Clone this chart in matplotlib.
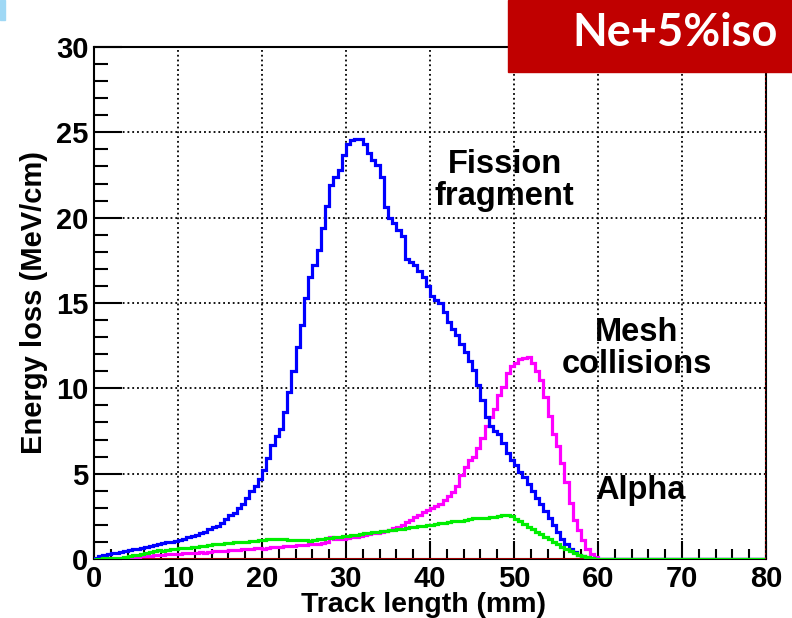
import numpy as np
import matplotlib
matplotlib.use('Agg')
import matplotlib.pyplot as plt
from matplotlib.patches import Rectangle

# 0.5 mm bins from 0 to 80 mm
edges = np.linspace(0, 80, 161)

# Energy loss per bin (MeV/cm), bins 0-60 mm
fission = [0.08, 0.15, 0.22, 0.28, 0.33, 0.38, 0.43, 0.48, 0.52, 0.56,
           0.6, 0.66, 0.72, 0.76, 0.8, 0.88, 0.93, 0.97, 1.0, 1.05,
           1.1, 1.18, 1.3, 1.36, 1.42, 1.5, 1.6, 1.75, 1.85, 1.95,
           2.1, 2.35, 2.55, 2.7, 3.0, 3.2, 3.6, 4.0, 4.3, 4.7,
           5.2, 5.9, 6.7, 7.2, 7.6, 8.6, 9.8, 11.0, 12.4, 13.7,
           15.3, 16.5, 17.2, 18.1, 19.4, 20.7, 21.9, 22.4, 22.8, 23.7,
           24.3, 24.55, 24.6, 24.6, 24.3, 23.8, 23.4, 23.1, 22.4, 20.6,
           20.0, 19.7, 19.3, 18.9, 17.6, 17.4, 17.2, 16.9, 16.5, 16.0,
           15.4, 15.2, 15.0, 14.5, 13.9, 13.5, 13.1, 12.6, 12.1, 11.6,
           11.1, 10.2, 9.3, 8.3, 7.8, 7.5, 7.3, 6.8, 6.2, 5.8,
           5.5, 5.1, 4.8, 4.4, 4.0, 3.6, 3.2, 2.8, 2.4, 2.0,
           1.6, 1.2, 0.9, 0.6, 0.4, 0.25, 0.15, 0.08, 0.04, 0.02]
mesh = [0.0, 0.01, 0.02, 0.03, 0.04, 0.05, 0.06, 0.08, 0.1, 0.12,
        0.14, 0.16, 0.18, 0.2, 0.22, 0.24, 0.26, 0.28, 0.3, 0.3,
        0.32, 0.33, 0.35, 0.36, 0.38, 0.4, 0.36, 0.42, 0.44, 0.46,
        0.47, 0.48, 0.5, 0.52, 0.54, 0.56, 0.58, 0.6, 0.62, 0.64,
        0.6, 0.66, 0.68, 0.7, 0.72, 0.74, 0.76, 0.78, 0.8, 0.82,
        0.84, 0.86, 0.88, 0.9, 0.92, 1.0, 1.3, 1.2, 1.15, 1.2,
        1.22, 1.26, 1.3, 1.35, 1.4, 1.45, 1.5, 1.55, 1.6, 1.65,
        1.7, 1.8, 1.9, 2.0, 2.15, 2.3, 2.45, 2.6, 2.75, 2.9,
        3.0, 3.1, 3.25, 3.45, 3.7, 3.9, 4.3, 4.9, 5.4, 5.8,
        6.0, 6.5, 7.1, 7.8, 8.3, 8.8, 9.6, 10.1, 10.9, 11.3,
        11.5, 11.7, 11.8, 11.85, 11.5, 11.0, 10.5, 9.5, 8.4, 7.3,
        6.6, 5.6, 4.5, 3.3, 2.3, 1.7, 1.1, 0.6, 0.3, 0.1]
alpha = [0.02, 0.02, 0.03, 0.03, 0.04, 0.05, 0.08, 0.12, 0.18, 0.22,
         0.26, 0.3, 0.34, 0.4, 0.45, 0.5, 0.48, 0.55, 0.58, 0.6,
         0.62, 0.64, 0.66, 0.68, 0.72, 0.75, 0.78, 0.82, 0.86, 0.9,
         0.9, 0.92, 0.95, 0.97, 1.0, 1.0, 1.02, 1.05, 1.08, 1.1,
         1.12, 1.15, 1.16, 1.18, 1.18, 1.16, 1.14, 1.12, 1.1, 1.1,
         1.1, 1.08, 1.1, 1.15, 1.2, 1.22, 1.25, 1.28, 1.3, 1.32,
         1.35, 1.38, 1.42, 1.46, 1.5, 1.53, 1.56, 1.6, 1.63, 1.66,
         1.7, 1.72, 1.75, 1.78, 1.82, 1.85, 1.88, 1.92, 1.96, 2.0,
         2.02, 2.05, 2.1, 2.12, 2.15, 2.2, 2.22, 2.25, 2.3, 2.35,
         2.38, 2.4, 2.42, 2.4, 2.45, 2.45, 2.5, 2.55, 2.6, 2.5,
         2.35, 2.2, 2.05, 1.9, 1.75, 1.6, 1.45, 1.3, 1.15, 1.0,
         0.85, 0.7, 0.58, 0.46, 0.36, 0.26, 0.18, 0.1, 0.05, 0.02]
# 60-80 mm tail
fission_tail = [0.0] * 40
mesh_tail = [0.0] * 40
alpha_tail = [0.02] * 40

fission = np.array(fission + fission_tail)
mesh = np.array(mesh + mesh_tail)
alpha = np.array(alpha + alpha_tail)

fig = plt.figure(figsize=(7.92, 6.18), dpi=100)
ax = fig.add_axes([94/792, 59/618, 672/792, 512/618])

bold = dict(family=['Liberation Sans', 'DejaVu Sans'], fontweight='bold')

ax.stairs(np.zeros(160), edges, color='#c00000', lw=1.2, zorder=3)
ax.stairs(mesh, edges, color='#ff00ff', lw=2.3, zorder=4)
ax.stairs(fission, edges, color='#0000ff', lw=2.3, zorder=5)
ax.stairs(alpha, edges, color='#00ee00', lw=2.3, zorder=6)
ax.axvline(80, color='#c00000', lw=1.2, ls=':', zorder=7)

ax.set_xlim(0, 80)
ax.set_ylim(0, 30)
ax.set_xticks(np.arange(0, 81, 10))
ax.set_xticks(np.arange(0, 81, 2), minor=True)
ax.set_yticks(np.arange(0, 31, 5))
ax.set_yticks(np.arange(0, 31, 1), minor=True)
ax.grid(True, which='major', color='black', ls=':', lw=1.3)
ax.tick_params(axis='x', which='major', direction='in', length=13, width=1.5, pad=4)
ax.tick_params(axis='x', which='minor', direction='in', length=7, width=1.5)
ax.tick_params(axis='y', which='major', direction='in', length=20, width=1.5, pad=4)
ax.tick_params(axis='y', which='minor', direction='in', length=10, width=1.5)
for lab in ax.get_xticklabels() + ax.get_yticklabels():
    lab.set_fontsize(21)
    lab.set_fontweight('bold')
    lab.set_family(['Liberation Sans', 'DejaVu Sans'])
for s in ax.spines.values():
    s.set_linewidth(1.5)

ax.set_xlabel('Track length (mm)', fontsize=20.5, labelpad=-3, **bold)
ax.xaxis.set_label_coords(0.49, -0.065)
ax.set_ylabel('Energy loss (MeV/cm)', fontsize=21, labelpad=6, **bold)

ax.text(48.9, 22.2, 'Fission\nfragment', ha='center', va='center',
        fontsize=23.5, linespacing=1.05, **bold)
ax.text(64.6, 12.35, 'Mesh\ncollisions', ha='center', va='center',
        fontsize=23.5, linespacing=1.05, **bold)
ax.text(65.0, 4.0, 'Alpha', ha='center', va='center', fontsize=23.5, **bold)

# label box in the corner
fig.patches.append(Rectangle((508/792, 1 - 72/618), 284/792, 72/618,
                             transform=fig.transFigure, color='#c00000', zorder=10))
fig.patches.append(Rectangle((0, 1 - 20/618), 5/792, 20/618,
                             transform=fig.transFigure, color='#9fd8f5', zorder=10))
fig.text(675/792, 1 - 33/618, 'Ne+5%iso', color='white', fontsize=32.5,
         fontweight='bold', family=['Lato', 'DejaVu Sans'],
         ha='center', va='center', zorder=11)

fig.savefig('out.png', dpi=100)
